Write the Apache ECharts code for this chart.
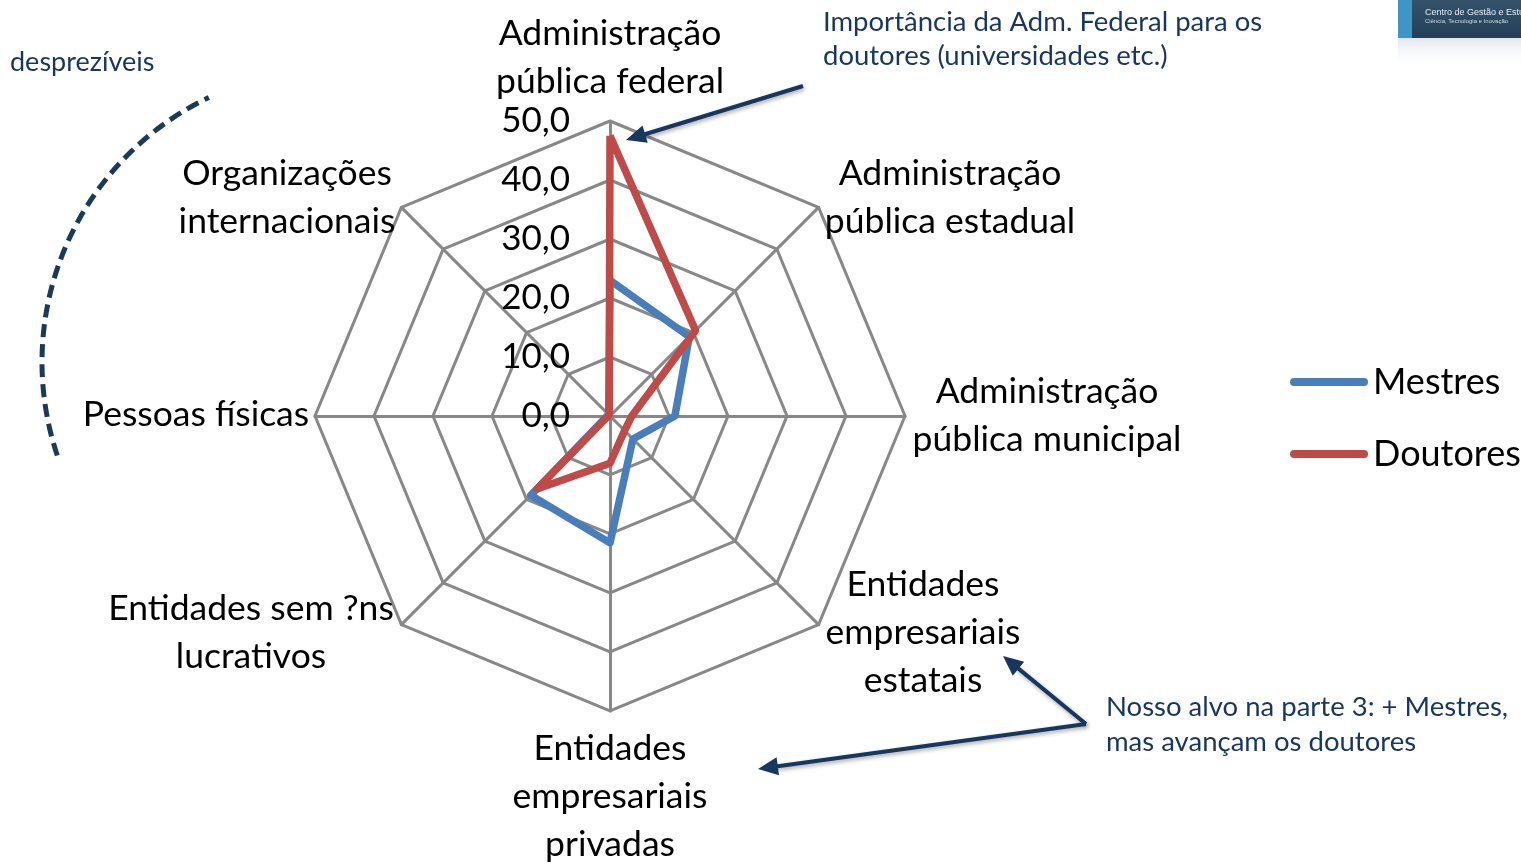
<!DOCTYPE html>
<html><head><meta charset="utf-8">
<script src="https://cdn.jsdelivr.net/npm/echarts@6/dist/echarts.min.js"></script>
<style>html,body{margin:0;padding:0;background:#fff}#c{width:1521px;height:864px}</style>
</head><body><div id="c"></div>
<script>
// ---- data ----
const categories = [
  'Administração\npública federal',
  'Administração\npública estadual',
  'Administração\npública municipal',
  'Entidades\nempresariais\nestatais',
  'Entidades\nempresariais\nprivadas',
  'Entidades sem ?ns\nlucrativos',
  'Pessoas físicas',
  'Organizações\ninternacionais'
];
const mestres  = [23.0, 19.0, 11.0, 5.5, 21.5, 19.0, 0.5, 0.3];
const doutores = [47.5, 20.5, 3.7, 3.5, 8.0, 17.5, 0.3, 0.2];
const seriesNames = ['Mestres', 'Doutores'];
const axisMin = 0, axisMax = 50, axisStep = 10;

// ---- layout (not data) ----
const C = [610, 416], R = 295;
const nameLayout = [
  [610, 58], [950, 198], [1047, 416], [923, 633],
  [610, 797], [251, 633], [196, 415], [287, 198]
];
const navy = '#17375E';
const font = 'Lato, Carlito, "Liberation Sans", sans-serif';

// ECharts radar places indicators counter-clockwise; chart goes clockwise
const order = [0, 7, 6, 5, 4, 3, 2, 1];

const chart = echarts.init(document.getElementById('c'), null, {renderer: 'canvas'});

function arrow(a, b, L, W) {
  const dx = b[0] - a[0], dy = b[1] - a[1];
  const len = Math.hypot(dx, dy), ux = dx / len, uy = dy / len;
  const nx = -uy, ny = ux;
  const base = [b[0] - ux * L, b[1] - uy * L];
  return [
    {type: 'line', shape: {x1: a[0], y1: a[1], x2: base[0] + ux * 2, y2: base[1] + uy * 2},
      style: {stroke: navy, lineWidth: 4, shadowBlur: 4, shadowColor: 'rgba(0,0,0,0.35)', shadowOffsetX: 1, shadowOffsetY: 2}, z: 20},
    {type: 'polygon', shape: {points: [b, [base[0] + nx * W, base[1] + ny * W], [base[0] - nx * W, base[1] - ny * W]]},
      style: {fill: navy}, z: 20}
  ];
}

const graphics = [];
categories.forEach((name, i) => {
  graphics.push({type: 'text', x: nameLayout[i][0], y: nameLayout[i][1], z: 10,
    style: {text: name, fontSize: 35.5, fontFamily: font, fill: '#000', align: 'center', verticalAlign: 'middle', lineHeight: 48}});
});
graphics.push(
  {type: 'text', x: 10, y: 62, style: {text: 'desprezíveis', fontSize: 27, fontFamily: font, fill: navy, align: 'left', verticalAlign: 'middle'}},
  {type: 'text', x: 823, y: 39, style: {text: 'Importância da Adm. Federal para os\ndoutores (universidades etc.)', fontSize: 27.5, fontFamily: font, fill: navy, align: 'left', verticalAlign: 'middle', lineHeight: 34}},
  {type: 'text', x: 1106, y: 725, style: {text: 'Nosso alvo na parte 3: + Mestres,\nmas avançam os doutores', fontSize: 27.5, fontFamily: font, fill: navy, align: 'left', verticalAlign: 'middle', lineHeight: 35}},
  {type: 'arc', shape: {cx: 335, cy: 362, r: 293, startAngle: 161.4 * Math.PI / 180, endAngle: 244.5 * Math.PI / 180, clockwise: true},
    style: {stroke: '#1B3A57', lineWidth: 5, lineDash: [13, 7], fill: null}},
  // logo
  {type: 'rect', shape: {x: 1398, y: 0, width: 123, height: 38},
    style: {fill: new echarts.graphic.LinearGradient(0, 0, 0, 1, [{offset: 0, color: '#34536b'}, {offset: 1, color: '#223f55'}])}},
  {type: 'rect', shape: {x: 1398, y: 0, width: 14, height: 38}, style: {fill: '#3f94c8'}},
  {type: 'rect', shape: {x: 1398, y: 38, width: 123, height: 32},
    style: {fill: new echarts.graphic.LinearGradient(0, 0, 0, 1, [{offset: 0, color: 'rgba(190,200,210,0.45)'}, {offset: 1, color: 'rgba(255,255,255,0)'}])}},
  {type: 'text', x: 1425, y: 13, style: {text: 'Centro de Gestão e Estudos', fontSize: 9, fontFamily: 'Liberation Sans', fill: '#e8eef3', align: 'left', verticalAlign: 'middle'}},
  {type: 'text', x: 1425, y: 21, style: {text: 'Ciência, Tecnologia e Inovação', fontSize: 6, fontFamily: 'Liberation Sans', fill: '#cfdbe4', align: 'left', verticalAlign: 'middle'}},
  ...arrow([803, 86], [626, 140], 20, 9),
  ...arrow([1086, 724], [1003, 656], 20, 9),
  ...arrow([1086, 724], [758, 769], 20, 9)
);

const option = {
  backgroundColor: '#fff',
  animation: false,
  textStyle: {fontFamily: font},
  color: ['#4A7EBB', '#BE4B48'],
  legend: {
    orient: 'vertical', left: 1285, top: 359, itemWidth: 78, itemHeight: 8, itemGap: 36,
    icon: 'path://M4,0 H74 A4,4 0 0 1 74,8 H4 A4,4 0 0 1 4,0 Z',
    textStyle: {fontSize: 36, color: '#000', fontFamily: font},
    data: seriesNames
  },
  radar: {
    center: C, radius: R, startAngle: 90, shape: 'polygon', splitNumber: 5,
    indicator: order.map(i => ({name: categories[i], min: axisMin, max: axisMax})),
    axisName: {show: false},
    axisLine: {lineStyle: {color: '#888888', width: 3}},
    splitLine: {lineStyle: {color: '#888888', width: 3}},
    splitArea: {show: false},
    axisTick: {show: false},
    axisLabel: {show: false}
  },
  grid: {left: C[0], top: C[1] - R, width: 1, height: R},
  xAxis: {type: 'value', show: false},
  yAxis: {
    type: 'value', min: axisMin, max: axisMax, interval: axisStep, z: 10,
    axisLine: {show: false}, axisTick: {show: false}, splitLine: {show: false},
    axisLabel: {margin: 40, fontSize: 35, color: '#000', fontFamily: font,
      formatter: v => v.toFixed(1).replace('.', ',')}
  },
  series: [{
    type: 'radar', symbol: 'none',
    lineStyle: {width: 7.5},
    data: [
      {name: seriesNames[0], value: order.map(i => mestres[i]), lineStyle: {width: 7.5, color: '#4A7EBB'}, itemStyle: {color: '#4A7EBB'}},
      {name: seriesNames[1], value: order.map(i => doutores[i]), lineStyle: {width: 7.5, color: '#BE4B48'}, itemStyle: {color: '#BE4B48'}}
    ]
  }],
  graphic: graphics
};
chart.setOption(option);
</script></body></html>
